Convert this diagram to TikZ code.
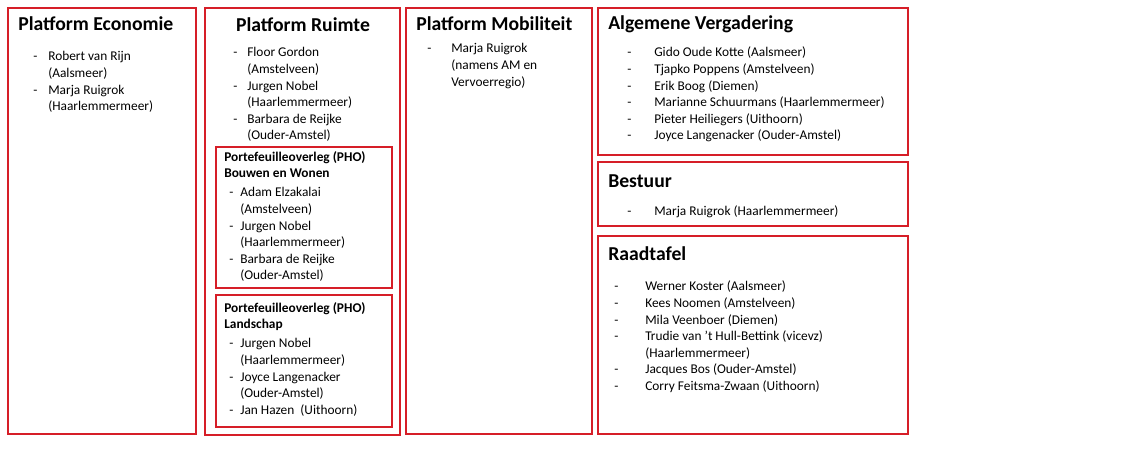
\documentclass[tikz,border=0pt]{standalone}
\usepackage{fontspec}
\setmainfont{Carlito}
\usepackage{array}
\definecolor{frame}{RGB}{214,30,40}
\newcommand{\lijst}[2]{\begin{tabular}{@{}p{#1}@{}l@{}}#2\end{tabular}}
\begin{document}
\begin{tikzpicture}[x=0.025cm,y=-0.025cm]
  \tikzset{
    kader/.style={draw=frame, line width=1.6pt},
    titel/.style={anchor=west, inner sep=0pt, font=\fontsize{14}{16}\selectfont\bfseries},
    kop/.style={anchor=north west, inner sep=0pt, align=left, font=\fontsize{9.5}{11.8}\selectfont\bfseries},
    lijst/.style={anchor=north west, inner sep=0pt, font=\fontsize{9.5}{11.8}\selectfont},
  }
  \useasboundingbox (0,0) rectangle (1143,462);
  % kaders
  \draw[kader] (8,8) rectangle (196,434);
  \draw[kader] (205,8) rectangle (400,435);
  \draw[kader] (216,147) rectangle (392,288);
  \draw[kader] (216,295) rectangle (392,427);
  \draw[kader] (406,8) rectangle (592,434);
  \draw[kader] (598,8) rectangle (908,155);
  \draw[kader] (598,162) rectangle (908,226);
  \draw[kader] (598,236) rectangle (908,434);
  % titels
  \node[titel] (eco) at (18,24) {Platform Economie};
  \node[titel, anchor=center] (rui) at (303,25) {Platform Ruimte};
  \node[titel] (mob) at (416,24) {Platform Mobiliteit};
  \node[titel] (alg) at (608,24) {Algemene Vergadering};
  \node[titel] (bes) at (608,181) {Bestuur};
  \node[titel] (raad) at (608,254) {Raadtafel};
  \node[kop] (pho1) at (224,151) {Portefeuilleoverleg (PHO)\\Bouwen en Wonen};
  \node[kop] (pho2) at (224,302) {Portefeuilleoverleg (PHO)\\Landschap};
  % lijsten
  \node[lijst] (ecol) at (33,49) {\lijst{0.375cm}{
    - & Robert van Rijn\\ & (Aalsmeer)\\
    - & Marja Ruigrok\\ & (Haarlemmermeer)}};
  \node[lijst] (ruil) at (233,45) {\lijst{0.35cm}{
    - & Floor Gordon\\ & (Amstelveen)\\
    - & Jurgen Nobel\\ & (Haarlemmermeer)\\
    - & Barbara de Reijke\\ & (Ouder-Amstel)}};
  \node[lijst] (pho1l) at (229,185) {\lijst{0.275cm}{
    - & Adam Elzakalai\\ & (Amstelveen)\\
    - & Jurgen Nobel\\ & (Haarlemmermeer)\\
    - & Barbara de Reijke\\ & (Ouder-Amstel)}};
  \node[lijst] (pho2l) at (229,336) {\lijst{0.275cm}{
    - & Jurgen Nobel\\ & (Haarlemmermeer)\\
    - & Joyce Langenacker\\ & (Ouder-Amstel)\\
    - & Jan Hazen\ \ (Uithoorn)}};
  \node[lijst] (mobl) at (427,41) {\lijst{0.6cm}{
    - & Marja Ruigrok\\ & (namens AM en\\ & Vervoerregio)}};
  \node[lijst] (algl) at (627,45) {\lijst{0.675cm}{
    - & Gido Oude Kotte (Aalsmeer)\\
    - & Tjapko Poppens (Amstelveen)\\
    - & Erik Boog (Diemen)\\
    - & Marianne Schuurmans (Haarlemmermeer)\\
    - & Pieter Heiliegers (Uithoorn)\\
    - & Joyce Langenacker (Ouder-Amstel)}};
  \node[lijst] (besl) at (627,204) {\lijst{0.675cm}{
    - & Marja Ruigrok (Haarlemmermeer)}};
  \node[lijst] (raadl) at (614,279) {\lijst{0.775cm}{
    - & Werner Koster (Aalsmeer)\\
    - & Kees Noomen (Amstelveen)\\
    - & Mila Veenboer (Diemen)\\
    - & Trudie van 't Hull-Bettink (vicevz)\\ & (Haarlemmermeer)\\
    - & Jacques Bos (Ouder-Amstel)\\
    - & Corry Feitsma-Zwaan (Uithoorn)}};
\end{tikzpicture}
\end{document}
